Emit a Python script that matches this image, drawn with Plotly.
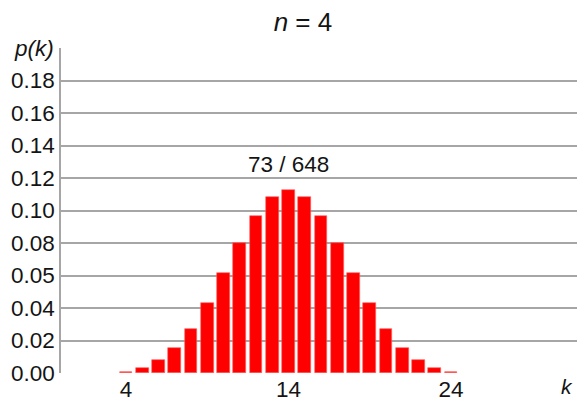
import plotly.graph_objects as go

# Number of ways to roll each total k with four six-sided dice
k_values = list(range(4, 25))
ways = [1, 4, 10, 20, 35, 56, 80, 104, 125, 140, 146, 140, 125, 104, 80, 56, 35, 20, 10, 4, 1]
total_outcomes = 1296

y_tick_vals = [0.00, 0.02, 0.04, 0.06, 0.08, 0.10, 0.12, 0.14, 0.16, 0.18, 0.20]
y_tick_text = ["0.00", "0.02", "0.04", "0.05", "0.08", "0.10", "0.12", "0.14", "0.16", "0.18", ""]
x_tick_vals = [4, 14, 24]

probs = [w / total_outcomes for w in ways]

font = "Liberation Sans, Arial, sans-serif"
ink = "#141414"
grid = "#a6a6a6"
fs = 22.5

fig = go.Figure(go.Bar(
    x=k_values, y=probs, width=0.78,
    marker=dict(color="#ff0000", line=dict(color="#ff6060", width=0.6)),
))

peak = max(range(len(probs)), key=lambda i: probs[i])
fig.add_annotation(x=k_values[peak], y=probs[peak], text="73 / 648",
                   showarrow=False, yshift=25, font=dict(size=fs, color=ink, family=font))
fig.add_annotation(x=0, y=0.20, xref="paper", yref="y", text="<i>p(k)</i>",
                   showarrow=False, xanchor="right", xshift=-5, yanchor="middle",
                   font=dict(size=fs, color=ink, family=font))
fig.add_annotation(x=1, y=0, xref="paper", yref="paper", text="<i>k</i>",
                   showarrow=False, xanchor="right", yanchor="top", yshift=0, xshift=-2,
                   font=dict(size=21, color=ink, family=font))

fig.update_layout(
    width=577, height=401,
    margin=dict(l=61, r=0, t=48, b=28),
    plot_bgcolor="white", paper_bgcolor="white",
    showlegend=False,
    title=dict(text="<i>n</i> = 4", x=0.525, xanchor="center", y=0.945, yanchor="middle",
               font=dict(size=26, color=ink, family=font)),
    font=dict(family=font, color=ink, size=fs),
    bargap=0,
)
fig.update_xaxes(range=[0, 31.75], tickvals=x_tick_vals, showgrid=False, zeroline=False,
                 showline=False, ticks="", tickfont=dict(size=fs))
fig.update_yaxes(range=[0, 0.20], tickvals=y_tick_vals, ticktext=y_tick_text,
                 showgrid=True, gridcolor=grid, gridwidth=1.5, zeroline=False,
                 showline=True, linecolor=grid, linewidth=1.5, ticks="",
                 tickfont=dict(size=fs))

fig.write_html("out.html")
